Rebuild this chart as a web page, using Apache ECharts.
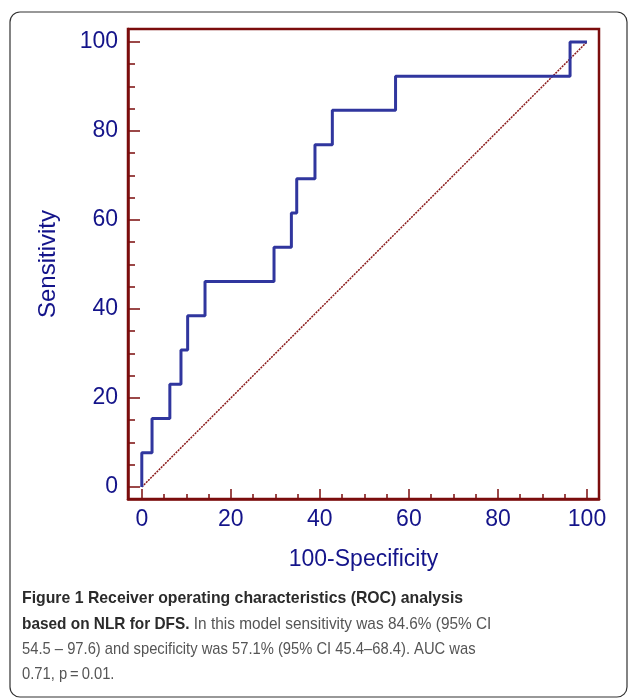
<!DOCTYPE html>
<html>
<head>
<meta charset="utf-8">
<script src="https://cdn.jsdelivr.net/npm/echarts@6/dist/echarts.min.js"></script>
<style>
  html, body { margin: 0; padding: 0; background: #fff; }
  #chart { width: 630px; height: 699px; }
</style>
</head>
<body>
<div id="chart"></div>
<script>
// ROC curve corners (100-specificity, sensitivity)
var fprValues = [0, 2.3, 6.3, 8.8, 10.3, 14.2, 29.7, 33.6, 34.8, 38.9, 42.8, 57.0, 96.2, 100];
var tprValues = [0, 7.69, 15.38, 23.08, 30.77, 38.46, 46.15, 53.85, 61.54, 69.23, 76.92, 84.62, 92.31, 100];
var refLine = [[0, 0], [100, 100]];
var tickLabels = [0, 20, 40, 60, 80, 100];

var captionLines = [
    [{ b: 'Figure 1 Receiver operating characteristics (ROC) analysis' }],
    [{ b: 'based on NLR for DFS.' }, { n: ' In this model sensitivity was 84.6% (95% CI' }],
    [{ n: '54.5 \u2013 97.6) and specificity was 57.1% (95% CI 45.4\u201368.4). AUC was' }],
    [{ n: '0.71, p\u2009=\u20090.01.' }]
];

var rocData = [];
for (var i = 0; i < fprValues.length; i++) {
    rocData.push([fprValues[i], tprValues[i]]);
}

var frameColor = '#7b0d0d';
var labelColor = '#14148a';
var fontFam = '"Liberation Sans", Arial, Helvetica, sans-serif';

function labelFmt(v) {
    for (var k = 0; k < tickLabels.length; k++) {
        if (Math.abs(v - tickLabels[k]) < 1e-6) return String(tickLabels[k]);
    }
    return '';
}

var chart = echarts.init(document.getElementById('chart'));

// caption drawn in a condensed look (horizontal squeeze per line)
var captionGraphics = [];
var lineY = [598, 624, 649, 674];
var lineScale = [0.93, 0.905, 0.868, 0.868];
captionLines.forEach(function (parts, idx) {
    var txt = parts.map(function (p) {
        return p.b !== undefined ? '{b|' + p.b + '}' : '{n|' + p.n + '}';
    }).join('');
    captionGraphics.push({
        type: 'text',
        x: 22,
        y: lineY[idx],
        scaleX: lineScale[idx],
        style: {
            text: txt,
            verticalAlign: 'middle',
            rich: {
                b: { fontFamily: fontFam, fontWeight: 'bold', fontSize: 17, fill: '#2b2b2b', color: '#2b2b2b' },
                n: { fontFamily: fontFam, fontSize: 17, fill: '#555', color: '#555' }
            }
        }
    });
});

var option = {
    animation: false,
    backgroundColor: '#fff',
    grid: {
        left: 128, top: 29, width: 471, height: 470,
        show: true,
        borderColor: frameColor,
        borderWidth: 2.5,
        backgroundColor: '#fff'
    },
    xAxis: {
        type: 'value',
        min: -3.1,
        max: 102.7,
        name: '100-Specificity',
        nameLocation: 'middle',
        nameGap: 49,
        nameTextStyle: { color: labelColor, fontSize: 23, fontFamily: fontFam },
        axisLine: { show: true, onZero: false, lineStyle: { color: frameColor, width: 2.5 } },
        axisTick: { show: true, inside: true, length: 10, lineStyle: { color: frameColor, width: 1.5 } },
        minorTick: { show: true, splitNumber: 4, length: 5, lineStyle: { color: frameColor, width: 1.5 } },
        axisLabel: { color: labelColor, fontSize: 23, fontFamily: fontFam, margin: 9, formatter: labelFmt },
        splitLine: { show: false }
    },
    yAxis: {
        type: 'value',
        min: -2.7,
        max: 102.9,
        name: 'Sensitivity',
        nameLocation: 'middle',
        nameGap: 68,
        nameTextStyle: { color: labelColor, fontSize: 24, fontFamily: fontFam },
        axisLine: { show: true, onZero: false, lineStyle: { color: frameColor, width: 2.5 } },
        axisTick: { show: true, inside: true, length: 12, lineStyle: { color: frameColor, width: 1.5 } },
        minorTick: { show: true, splitNumber: 4, length: 7, lineStyle: { color: frameColor, width: 1.5 } },
        axisLabel: { color: labelColor, fontSize: 23, fontFamily: fontFam, margin: 10, formatter: labelFmt },
        splitLine: { show: false }
    },
    series: [
        {
            name: 'Reference',
            type: 'line',
            data: refLine,
            symbol: 'none',
            silent: true,
            lineStyle: { color: '#8b1a1a', width: 1.5, type: [2, 1] }
        },
        {
            name: 'ROC',
            type: 'line',
            step: 'start',
            data: rocData,
            symbol: 'none',
            lineStyle: { color: '#30369e', width: 3 }
        }
    ],
    graphic: [
        {
            type: 'rect',
            shape: { x: 10, y: 12, width: 617, height: 685, r: 10 },
            style: { fill: null, stroke: '#333', lineWidth: 1.2 },
            z: -1
        }
    ].concat(captionGraphics)
};

chart.setOption(option);
</script>
</body>
</html>
